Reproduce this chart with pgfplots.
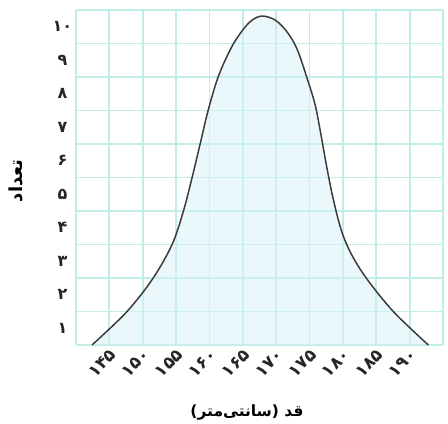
\documentclass[border=0pt]{standalone}
\usepackage{fontspec}
\usepackage{pgfplots}
\pgfplotsset{compat=1.18}
\TeXXeTstate=1
\newfontfamily\fa[Script=Arabic]{DejaVu Sans}

\definecolor{gridteal}{RGB}{192,237,229}
\definecolor{curvefill}{RGB}{214,242,247}
\definecolor{curveline}{RGB}{60,60,62}

\pgfplotstableread{
x      y
142.4  0.00
147.6  0.99
151.5  1.98
154.4  3.00
156.1  4.00
157.4  5.00
158.6  6.00
159.8  7.00
161.3  8.00
163.2  8.85
164.9  9.38
166.4  9.70
168.0  9.82
170.0  9.68
171.8  9.30
173.2  8.80
174.6  7.98
175.8  7.20
176.6  6.40
177.5  5.40
178.5  4.40
179.8  3.40
181.3  2.70
183.6  1.97
187.6  0.99
192.8  0.00
}\heights

\begin{document}
\begin{tikzpicture}
\begin{axis}[
  scale only axis,
  width=367pt, height=335pt,
  xmin=140, xmax=195, ymin=0, ymax=10,
  axis line style={draw=none},
  major tick length=0pt, minor tick length=0pt,
  xtick={145,150,...,190},
  xticklabels={۱۴۵,۱۵۰,۱۵۵,۱۶۰,۱۶۵,۱۷۰,۱۷۵,۱۸۰,۱۸۵,۱۹۰},
  minor xtick={140,145,...,195},
  ytick={0.5,1.5,...,9.5},
  yticklabels={۱,۲,۳,۴,۵,۶,۷,۸,۹,۱۰},
  minor ytick={0,1,...,10},
  xmajorgrids=false, ymajorgrids=false,
  xminorgrids=true, yminorgrids=true,
  minor grid style={gridteal, line width=1.8pt},
  ticklabel style={text=black!85},
  xticklabel style={font=\fa\bfseries\fontsize{17}{18}\selectfont, rotate=45, anchor=east, xshift=-1pt, yshift=-8pt, inner sep=1pt},
  yticklabel style={font=\fa\bfseries\fontsize{16}{17}\selectfont, text width=22pt, align=center, xshift=1pt},
  xlabel={\fa\bfseries\beginR قد (سانتی‌متر)\endR},
  xlabel style={font=\fontsize{15.5}{17}\selectfont, at={(axis description cs:0.466,0)}, anchor=center, yshift=-67pt},
  ylabel={\fa\bfseries\beginR تعداد\endR},
  ylabel style={font=\fontsize{18}{20}\selectfont, at={(axis description cs:0,0.49)}, anchor=center, yshift=60pt},
  clip=false,
]
% area under the height distribution, light enough to let the grid show through
\addplot[fill=curvefill, fill opacity=0.5, draw=none, smooth, tension=0.55] table[x=x, y=y] {\heights} \closedcycle;
% the distribution curve itself
\addplot[curveline, line width=1.5pt, smooth, tension=0.55] table[x=x, y=y] {\heights};
\end{axis}
\path[use as bounding box] ([xshift=-76pt,yshift=-78pt]current axis.south west)
  rectangle ([xshift=5pt,yshift=10pt]current axis.north east);
\end{tikzpicture}
\end{document}
